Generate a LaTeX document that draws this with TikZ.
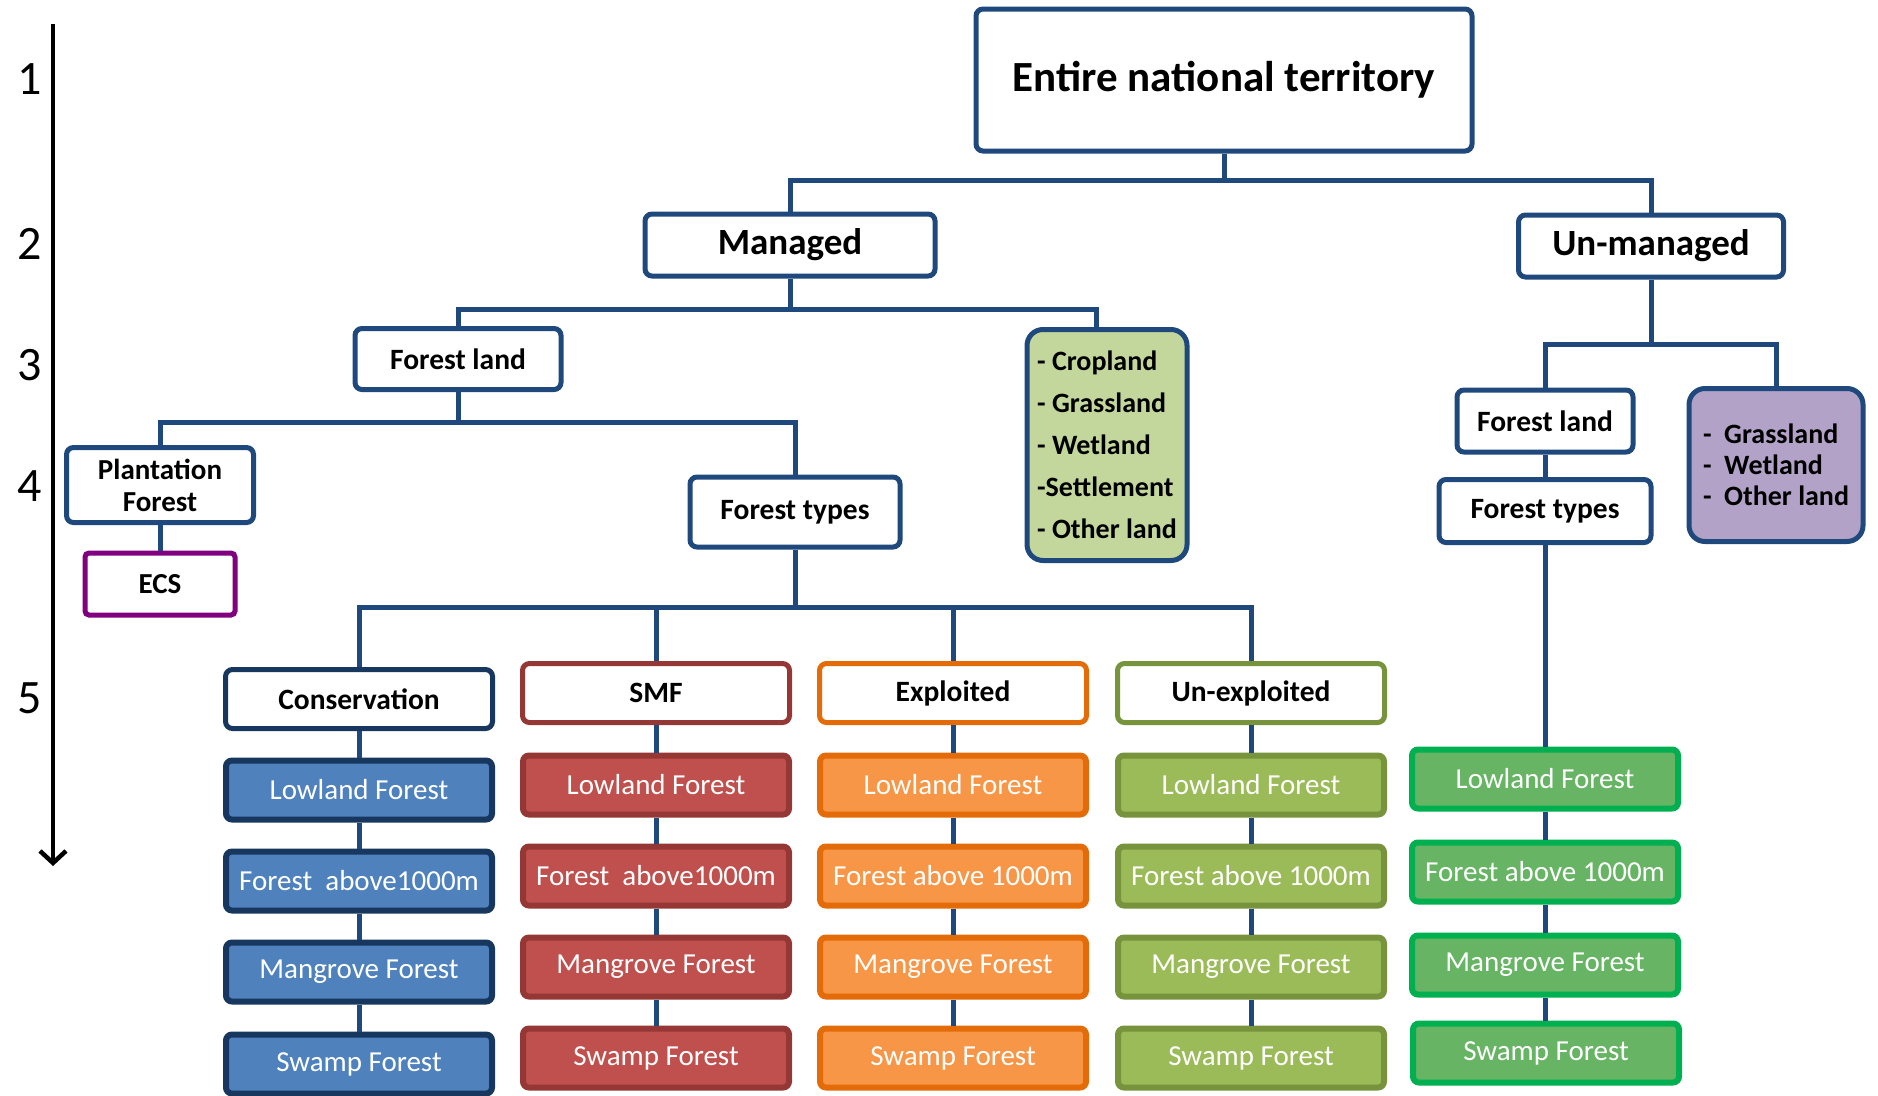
\documentclass[tikz,border=0pt]{standalone}
\usepackage{fontspec}
\setmainfont{Carlito}
\usetikzlibrary{arrows.meta}
\definecolor{navy}{HTML}{1F497D}
\definecolor{cnavy}{HTML}{17375E}
\definecolor{bluef}{HTML}{4F81BD}
\definecolor{redb}{HTML}{953735}
\definecolor{redf}{HTML}{C0504D}
\definecolor{orab}{HTML}{E36C09}
\definecolor{oraf}{HTML}{F79646}
\definecolor{olib}{HTML}{77933C}
\definecolor{olif}{HTML}{9BBB59}
\definecolor{grnb}{HTML}{00B050}
\definecolor{grnf}{HTML}{66B464}
\definecolor{paleg}{HTML}{C3D69B}
\definecolor{lilac}{HTML}{B2A2C7}
\definecolor{ecsp}{HTML}{800080}
\tikzset{
  box/.style={draw=navy, line width=5pt, rounded corners=7pt, fill=white, inner sep=0pt, align=center, font=\bfseries\fontsize{29.5}{34}\selectfont},
  hdr/.style={box, minimum width=267pt, minimum height=59pt},
  item/.style={rounded corners=6pt, line width=6pt, minimum width=266pt, minimum height=59pt, inner sep=0pt, text=white, font=\fontsize{29}{35}\selectfont},
  conn/.style={draw=navy, line width=5pt},
  lvl/.style={font=\fontsize{48}{52}\selectfont, inner sep=0pt},
}
\begin{document}
\begin{tikzpicture}[x=1pt,y=-1pt]
\useasboundingbox (0,0) rectangle (1878,1095);
% level axis
\node[lvl] (n1) at (30,79) {1};
\node[lvl] (n2) at (30,244) {2};
\node[lvl] (n3) at (30,365) {3};
\node[lvl] (n4) at (30,486) {4};
\node[lvl] (n5) at (30,698) {5};
\coordinate (atop) at (53,24);
\coordinate (abot) at (53,866);
\draw[line width=4.5pt, -{Straight Barb[length=12pt,width=26pt,line width=4.5pt]}] (atop) -- (abot);

% top levels
\node[box, minimum width=496pt, minimum height=142pt, font=\bfseries\fontsize{43}{48}\selectfont] (ent) at (1224,80) {Entire national territory};
\node[box, minimum width=290pt, minimum height=62pt, font=\bfseries\fontsize{37}{40}\selectfont] (man) at (790,245) {Managed};
\node[box, minimum width=265pt, minimum height=62pt, font=\bfseries\fontsize{37}{40}\selectfont] (unm) at (1651,246) {Un-managed};

\node[box, minimum width=206pt, minimum height=61pt] (fl1) at (458,359) {Forest land};
\node[box, fill=paleg, rounded corners=16pt, minimum width=160pt, minimum height=231pt, align=left, font=\bfseries\fontsize{28}{42}\selectfont] (grn) at (1107,445) {- Cropland\\- Grassland\\- Wetland\\-Settlement\\- Other land};
\node[box, minimum width=187pt, minimum height=75pt, font=\bfseries\fontsize{29}{32}\selectfont] (pla) at (160,485) {Plantation\\Forest};
\node[box, draw=ecsp, rounded corners=4pt, minimum width=150pt, minimum height=62pt, font=\bfseries\fontsize{29}{32}\selectfont] (ecs) at (160,584) {ECS};
\node[box, minimum width=210pt, minimum height=70pt] (ft1) at (795,512) {Forest types};

\node[box, minimum width=176pt, minimum height=62pt] (fl2) at (1545,421) {Forest land};
\node[box, minimum width=212pt, minimum height=63pt] (ft2) at (1545,511) {Forest types};
\node[box, fill=lilac, rounded corners=16pt, minimum width=174pt, minimum height=153pt, align=left, font=\bfseries\fontsize{28}{31}\selectfont] (pur) at (1776,465) {-\ \ Grassland\\-\ \ Wetland\\-\ \ Other land};

% level 5 headers
\node[hdr, draw=cnavy] (hc) at (359,699) {Conservation};
\node[hdr, draw=redb] (hs) at (656,693) {SMF};
\node[hdr, draw=orab] (he) at (953,693) {Exploited};
\node[hdr, draw=olib] (hu) at (1251,693) {Un-exploited};

% conservation column
\node[item, draw=cnavy, fill=bluef] (c1) at (359,790) {Lowland Forest};
\node[item, draw=cnavy, fill=bluef] (c2) at (359,881) {Forest\ \ above1000m};
\node[item, draw=cnavy, fill=bluef] (c3) at (359,972) {Mangrove Forest};
\node[item, draw=cnavy, fill=bluef] (c4) at (359,1064) {Swamp Forest};
% SMF column
\node[item, draw=redb, fill=redf] (s1) at (656,785) {Lowland Forest};
\node[item, draw=redb, fill=redf] (s2) at (656,876) {Forest\ \ above1000m};
\node[item, draw=redb, fill=redf] (s3) at (656,967) {Mangrove Forest};
\node[item, draw=redb, fill=redf] (s4) at (656,1058) {Swamp Forest};
% exploited column
\node[item, draw=orab, fill=oraf] (e1) at (953,785) {Lowland Forest};
\node[item, draw=orab, fill=oraf] (e2) at (953,876) {Forest above 1000m};
\node[item, draw=orab, fill=oraf] (e3) at (953,967) {Mangrove Forest};
\node[item, draw=orab, fill=oraf] (e4) at (953,1058) {Swamp Forest};
% un-exploited column
\node[item, draw=olib, fill=olif] (u1) at (1251,785) {Lowland Forest};
\node[item, draw=olib, fill=olif] (u2) at (1251,876) {Forest above 1000m};
\node[item, draw=olib, fill=olif] (u3) at (1251,967) {Mangrove Forest};
\node[item, draw=olib, fill=olif] (u4) at (1251,1058) {Swamp Forest};
% un-managed forest column
\node[item, draw=grnb, fill=grnf] (r1) at (1545,779) {Lowland Forest};
\node[item, draw=grnb, fill=grnf] (r2) at (1545,872) {Forest above 1000m};
\node[item, draw=grnb, fill=grnf] (r3) at (1545,965) {Mangrove Forest};
\node[item, draw=grnb, fill=grnf] (r4) at (1546,1053) {Swamp Forest};

% connectors
\coordinate (b1) at (0,180);
\coordinate (b2) at (0,309);
\coordinate (b3) at (0,422);
\coordinate (b4) at (0,607);
\coordinate (b5) at (0,344);
\coordinate (gtop) at (1096,330);

\draw[conn] (ent.south) -- (ent.south |- b1);
\draw[conn] (man.north) -- (man.north |- b1) -- (unm.north |- b1) -- (unm.north);

\draw[conn] (man.south) -- (man.south |- b2);
\draw[conn] (fl1.north) -- (fl1.north |- b2) -- (gtop |- b2) -- (gtop);

\draw[conn] (fl1.south) -- (fl1.south |- b3);
\draw[conn] (pla.north) -- (pla.north |- b3) -- (ft1.north |- b3) -- (ft1.north);
\draw[conn] (pla.south) -- (ecs.north);

\draw[conn] (ft1.south) -- (ft1.south |- b4);
\draw[conn] (hc.north) -- (hc.north |- b4) -- (hu.north |- b4) -- (hu.north);
\draw[conn] (hs.north) -- (hs.north |- b4);
\draw[conn] (he.north) -- (he.north |- b4);

\draw[conn] (unm.south) -- (unm.south |- b5);
\draw[conn] (fl2.north) -- (fl2.north |- b5) -- (pur.north |- b5) -- (pur.north);
\draw[conn] (fl2.south) -- (ft2.north);
\draw[conn] (ft2.south) -- (r1.north);

\foreach \h/\a/\b/\c/\d in {hc/c1/c2/c3/c4, hs/s1/s2/s3/s4, he/e1/e2/e3/e4, hu/u1/u2/u3/u4}{
  \draw[conn] (\h.south) -- (\a.north);
  \draw[conn] (\a.south) -- (\b.north);
  \draw[conn] (\b.south) -- (\c.north);
  \draw[conn] (\c.south) -- (\d.north);
}
\draw[conn] (r1.south) -- (r2.north);
\draw[conn] (r2.south) -- (r3.north);
\draw[conn] (r3.south) -- (r4.north -| r3.south);
\end{tikzpicture}
\end{document}
